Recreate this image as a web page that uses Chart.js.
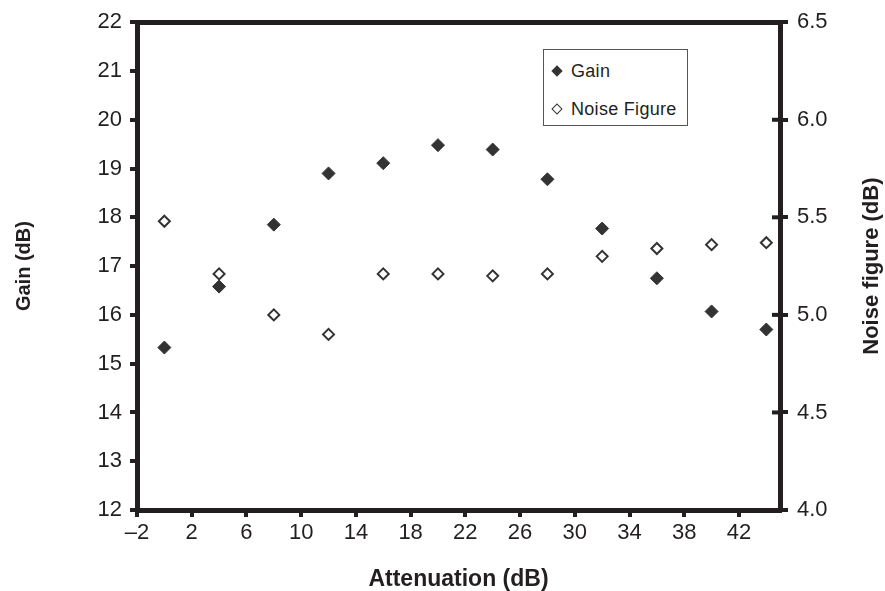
<!DOCTYPE html>
<html>
<head>
<meta charset="utf-8">
<script src="https://cdn.jsdelivr.net/npm/chart.js@4/dist/chart.umd.min.js"></script>
<style>
  body { margin: 0; background: #fff; }
  #wrap { position: relative; width: 885px; height: 591px; }
  #legend {
    position: absolute; left: 543px; top: 49px; width: 143px; height: 75px;
    border: 1px solid #555; background: #fff;
    font-family: "Liberation Sans", Arial, sans-serif; font-size: 18px; color: #231f20;
  }
  #legend .item { position: absolute; left: 0; height: 22px; line-height: 22px; white-space: nowrap; }
  #legend .mark {
    position: absolute; left: 9px; top: 7px; width: 8px; height: 8px;
    transform: rotate(45deg); box-sizing: border-box;
  }
  #legend .txt { position: absolute; left: 27px; top: 0; letter-spacing: 0.3px; }
</style>
</head>
<body>
<div id="wrap">
  <canvas id="chart" width="885" height="591"></canvas>
  <div id="legend"></div>
</div>
<script>
// attenuation setting (dB) for each measurement
var attenuation = [0, 4, 8, 12, 16, 20, 24, 28, 32, 36, 40, 44];
// measured gain, dB (left axis)
var gain = [15.33, 16.58, 17.85, 18.90, 19.11, 19.48, 19.39, 18.78, 17.77, 16.75, 16.07, 15.70];
// measured noise figure, dB (right axis)
var noiseFigure = [5.48, 5.21, 5.00, 4.90, 5.21, 5.21, 5.20, 5.21, 5.30, 5.34, 5.36, 5.37];
// x axis tick positions
var xTicks = [-2, 2, 6, 10, 14, 18, 22, 26, 30, 34, 38, 42];

var ink = '#231f20';
var fontFamily = '"Liberation Sans", Arial, sans-serif';

function toPoints(xs, ys) {
    return xs.map(function (x, i) { return { x: x, y: ys[i] }; });
}

// short nubs on the inside of the right axis, and the rotated right axis title
var rightAxisExtras = {
    id: 'rightAxisExtras',
    afterDraw: function (chart) {
        var ctx = chart.ctx;
        var s = chart.scales.y1;
        var area = chart.chartArea;
        ctx.save();
        ctx.strokeStyle = ink;
        ctx.lineWidth = 4;
        s.ticks.forEach(function (t) {
            var py = s.getPixelForValue(t.value);
            ctx.beginPath();
            ctx.moveTo(area.right - 8, py);
            ctx.lineTo(area.right, py);
            ctx.stroke();
        });
        ctx.translate(872, (area.top + area.bottom) / 2);
        ctx.rotate(-Math.PI / 2);
        ctx.fillStyle = ink;
        ctx.font = 'bold 22px ' + fontFamily;
        ctx.textAlign = 'center';
        ctx.textBaseline = 'middle';
        ctx.fillText('Noise figure (dB)', 0, 0);
        ctx.restore();
    }
};

var ctx = document.getElementById('chart').getContext('2d');
var chart = new Chart(ctx, {
    type: 'scatter',
    data: {
        datasets: [{
            label: 'Gain',
            data: toPoints(attenuation, gain),
            yAxisID: 'y',
            pointStyle: 'rectRot',
            pointRadius: 6.5,
            backgroundColor: '#333',
            borderColor: '#333',
            borderWidth: 1
        }, {
            label: 'Noise Figure',
            data: toPoints(attenuation, noiseFigure),
            yAxisID: 'y1',
            pointStyle: 'rectRot',
            pointRadius: 5.5,
            backgroundColor: '#fff',
            borderColor: '#333',
            borderWidth: 2
        }]
    },
    options: {
        responsive: false,
        animation: false,
        layout: { padding: { top: 18, left: 0, right: 0, bottom: 0 } },
        plugins: {
            legend: { display: false },
            tooltip: { enabled: false }
        },
        scales: {
            x: {
                type: 'linear',
                position: 'bottom',
                min: -2,
                max: 45,
                afterBuildTicks: function (scale) {
                    scale.ticks = xTicks.map(function (v) { return { value: v }; });
                },
                afterFit: function (scale) { scale.height = 81; },
                grid: { drawOnChartArea: false, drawTicks: true, tickLength: 7, color: ink, lineWidth: 4 },
                border: { display: true, color: ink, width: 5 },
                ticks: {
                    color: ink,
                    padding: 3,
                    maxRotation: 0,
                    autoSkip: false,
                    font: { family: fontFamily, size: 22 },
                    callback: function (v) { return v < 0 ? '\u2013' + Math.abs(v) : String(v); }
                },
                title: {
                    display: true,
                    text: 'Attenuation (dB)',
                    color: ink,
                    padding: { top: 0, bottom: 0 },
                    font: { family: fontFamily, size: 23, weight: 'bold', lineHeight: 1 }
                }
            },
            xTop: {
                type: 'linear',
                position: 'top',
                min: -2,
                max: 45,
                afterFit: function (scale) { scale.height = 0; },
                grid: { display: false },
                border: { display: true, color: ink, width: 5 },
                ticks: { display: false }
            },
            y: {
                type: 'linear',
                position: 'left',
                min: 12,
                max: 22,
                afterFit: function (scale) { scale.width = 137; },
                grid: { drawOnChartArea: false, drawTicks: true, tickLength: 7, color: ink, lineWidth: 4 },
                border: { display: true, color: ink, width: 5 },
                ticks: {
                    stepSize: 1,
                    color: ink,
                    padding: 8,
                    font: { family: fontFamily, size: 22 }
                },
                title: {
                    display: true,
                    text: 'Gain (dB)',
                    color: ink,
                    padding: { top: 14, bottom: 0 },
                    font: { family: fontFamily, size: 20, weight: 'bold', lineHeight: 1 }
                }
            },
            y1: {
                type: 'linear',
                position: 'right',
                min: 4,
                max: 6.5,
                afterFit: function (scale) { scale.width = 105; },
                grid: { drawOnChartArea: false, drawTicks: true, tickLength: 8, color: ink, lineWidth: 4 },
                border: { display: true, color: ink, width: 5 },
                ticks: {
                    stepSize: 0.5,
                    color: ink,
                    padding: 9,
                    font: { family: fontFamily, size: 22 },
                    callback: function (v) { return v.toFixed(1); }
                }
            }
        }
    },
    plugins: [rightAxisExtras]
});

// boxed legend built from the dataset definitions
var legend = document.getElementById('legend');
chart.data.datasets.forEach(function (ds, i) {
    var item = document.createElement('div');
    item.className = 'item';
    item.style.top = (10 + i * 38) + 'px';
    var mark = document.createElement('span');
    mark.className = 'mark';
    if (ds.backgroundColor === '#fff') {
        mark.style.border = '1.5px solid ' + ds.borderColor;
        mark.style.background = '#fff';
    } else {
        mark.style.background = ds.backgroundColor;
    }
    var txt = document.createElement('span');
    txt.className = 'txt';
    txt.textContent = ds.label;
    item.appendChild(mark);
    item.appendChild(txt);
    legend.appendChild(item);
});
</script>
</body>
</html>
